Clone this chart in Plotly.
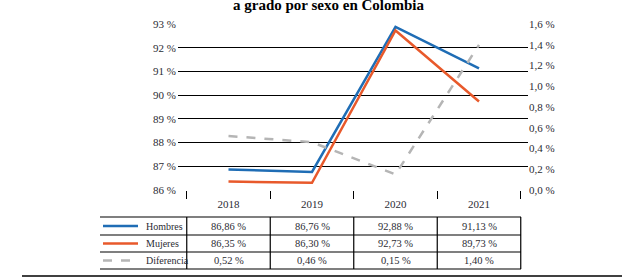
import plotly.graph_objects as go

years = ["2018", "2019", "2020", "2021"]
hombres = [86.86, 86.76, 92.88, 91.13]
mujeres = [86.35, 86.30, 92.73, 89.73]
diferencia = [0.52, 0.46, 0.15, 1.40]
series_names = ["Hombres", "Mujeres", "Diferencia"]
left_ticks = [86, 87, 88, 89, 90, 91, 92, 93]
right_ticks = [0.0, 0.2, 0.4, 0.6, 0.8, 1.0, 1.2, 1.4, 1.6]
title_text = "a grado por sexo en Colombia"

BLUE = "#1f6db5"
ORANGE = "#e8592b"
GRAY = "#b5b5b5"
TXT = "#2b2b33"
FONT = "Liberation Serif, DejaVu Serif, Noto Serif, serif"

W, H = 622, 278
L, R, T, B = 178, 94, 24, 88
PW = W - L - R
PH = H - T - B


def px_x(p):
    return (p - L) / PW


def px_y(p):
    return (H - B - p) / PH


def fmt(v, nd=2):
    return f"{v:.{nd}f}".replace(".", ",") + " %"


fig = go.Figure()
fig.add_trace(go.Scatter(x=years, y=hombres, mode="lines", name=series_names[0],
                         line=dict(color=BLUE, width=2.5)))
fig.add_trace(go.Scatter(x=years, y=mujeres, mode="lines", name=series_names[1],
                         line=dict(color=ORANGE, width=2.5)))
fig.add_trace(go.Scatter(x=years, y=diferencia, mode="lines", name=series_names[2],
                         line=dict(color=GRAY, width=2.5, dash="dash"), yaxis="y2"))

shapes = []
row_lines = [217, 235, 252, 269]
for yy in row_lines:
    shapes.append(dict(type="line", xref="paper", yref="paper",
                       x0=px_x(100), x1=px_x(521), y0=px_y(yy), y1=px_y(yy),
                       line=dict(color="black", width=1.2)))
cat_w = 83.5
c0 = 228.5
for i in range(len(years) + 1):
    xx = c0 + (i - 0.5) * cat_w
    shapes.append(dict(type="line", xref="paper", yref="paper",
                       x0=px_x(xx), x1=px_x(xx), y0=px_y(217), y1=px_y(269),
                       line=dict(color="black", width=1.2)))
shapes.append(dict(type="line", xref="paper", yref="paper",
                   x0=px_x(22), x1=px_x(622), y0=px_y(276), y1=px_y(276),
                   line=dict(color="black", width=1.5)))

row_centers = [226, 243.5, 260.5]
colors = [BLUE, ORANGE, GRAY]
dashes = ["solid", "solid", "dash"]
for rc, col, d in zip(row_centers, colors, dashes):
    shapes.append(dict(type="line", xref="paper", yref="paper",
                       x0=px_x(103), x1=px_x(138), y0=px_y(rc), y1=px_y(rc),
                       line=dict(color=col, width=2.5, dash=d)))

annotations = []
for name, rc in zip(series_names, row_centers):
    annotations.append(dict(text=name, xref="paper", yref="paper", x=px_x(144), y=px_y(rc),
                            xanchor="left", yanchor="middle", showarrow=False,
                            font=dict(family=FONT, size=10, color=TXT)))

for vals, rc in zip([hombres, mujeres, diferencia], row_centers):
    for i, v in enumerate(vals):
        annotations.append(dict(text=fmt(v), xref="x", yref="paper", x=i, y=px_y(rc),
                                xanchor="center", yanchor="middle", showarrow=False,
                                font=dict(family=FONT, size=10.5, color=TXT)))

annotations.append(dict(text="<b>" + title_text + "</b>", xref="paper", yref="paper",
                        x=px_x(328), y=px_y(5), xanchor="center", yanchor="middle",
                        showarrow=False, font=dict(family=FONT, size=15, color="black")))

x_lo = (L - c0) / cat_w
x_hi = (W - R - c0) / cat_w

fig.update_layout(
    width=W, height=H,
    margin=dict(l=L, r=R, t=T, b=B, pad=0),
    paper_bgcolor="white", plot_bgcolor="white",
    showlegend=False,
    font=dict(family=FONT, size=11, color=TXT),
    xaxis=dict(type="category", range=[x_lo, x_hi], showgrid=False, showline=False,
               zeroline=False, ticks="outside", tickson="boundaries", ticklen=8,
               tickcolor="black", tickwidth=1.2, ticklabelstandoff=6,
               tickfont=dict(family=FONT, size=11, color=TXT)),
    yaxis=dict(range=[85.995, 93.005], tickmode="array", tickvals=left_ticks,
               ticktext=[f"{t} %" for t in left_ticks],
               showgrid=True, gridcolor="black",
               gridwidth=1.2, zeroline=False, showline=False, ticks="",
               ticklabelstandoff=1,
               tickfont=dict(family=FONT, size=11, color=TXT)),
    yaxis2=dict(overlaying="y", side="right", range=[-0.0011, 1.6011], tickmode="array",
                tickvals=right_ticks, ticktext=[fmt(t, 1) for t in right_ticks],
                showgrid=False, zeroline=False, showline=False, ticks="",
                tickfont=dict(family=FONT, size=11, color=TXT)),
    shapes=shapes,
    annotations=annotations,
)

fig.write_html("out.html", config={"displayModeBar": False},
               post_script="document.body.style.margin='0';document.body.style.overflow='hidden';")
